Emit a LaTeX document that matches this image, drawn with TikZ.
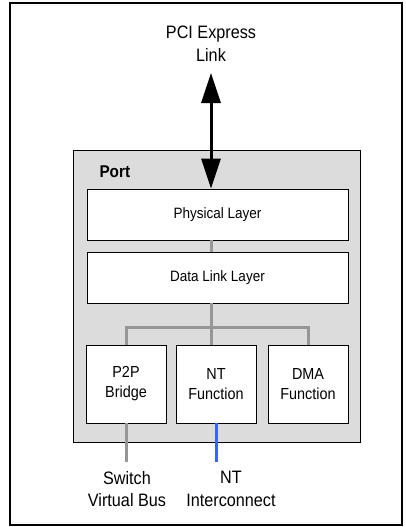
\documentclass[tikz,border=0pt]{standalone}
\usepackage{fontspec}
\setmainfont{Liberation Sans}[FakeStretch=0.9]
\usepackage{xcolor}
\usetikzlibrary{arrows.meta,positioning,calc}
\definecolor{portgray}{RGB}{220,220,220}
\definecolor{wiregray}{RGB}{150,150,150}
\definecolor{ntblue}{RGB}{51,102,255}

\begin{document}
\begin{tikzpicture}[x=1pt, y=-1pt,
    layerbox/.style={draw, thick, fill=white, minimum width=261pt, minimum height=51pt,
        font=\fontsize{15}{18}\selectfont},
    funcbox/.style={draw, thick, fill=white, minimum width=80pt, minimum height=78pt,
        align=center, font=\fontsize{16}{20}\selectfont},
    wire/.style={wiregray, line width=3pt},
    biglabel/.style={align=center, font=\fontsize{18}{22.5}\selectfont}]
    \useasboundingbox (0,0) rectangle (405,527);

    % Outer frame
    \draw[line width=1.5pt] (10,3) rectangle (402,525);

    % Port with its layers
    \node[draw, thick, fill=portgray, minimum width=287pt, minimum height=292pt] (port) at (216.5,296) {};
    \node[anchor=west, font=\bfseries\fontsize{17}{20}\selectfont] (portlbl) at (96,172) {Port};
    \node[layerbox] (phy) at (217.5,214.5) {Physical Layer};
    \node[layerbox] (dll) at (217.5,277.5) {Data Link Layer};

    % Functions
    \node[funcbox] (p2p) at (126,384) {P2P\\Bridge};
    \node[funcbox] (ntf) at (216,384) {NT\\Function};
    \node[funcbox] (dma) at (308,384) {DMA\\Function};

    % Link on top
    \node[biglabel] (pcie) at (211,43.5) {PCI Express\\Link};
    \coordinate (linktip) at (211,73);
    \draw[line width=3pt, {Triangle[length=30pt,width=19pt]}-{Triangle[length=30pt,width=19pt]}]
        (linktip) -- (linktip |- phy.north);

    % Internal wiring
    \coordinate (split) at (211,327);
    \draw[wire] (linktip |- phy.south) -- (linktip |- dll.north);
    \draw[wire] (split |- dll.south) -- (split);
    \draw[wire] (p2p.north) |- (split) -| (dma.north);
    \draw[wire] (split) -- (split |- ntf.north);

    % Outside connections
    \node[biglabel] (vbus) at (127,489) {Switch\\Virtual Bus};
    \node[biglabel] (ntic) at (231,489) {NT\\Interconnect};
    \coordinate (vbusend) at (126,462);
    \coordinate (nticend) at (216,462);
    \draw[wire] (p2p.south) -- (vbusend);
    \draw[ntblue, line width=3pt] (ntf.south) -- (nticend);
\end{tikzpicture}
\end{document}
